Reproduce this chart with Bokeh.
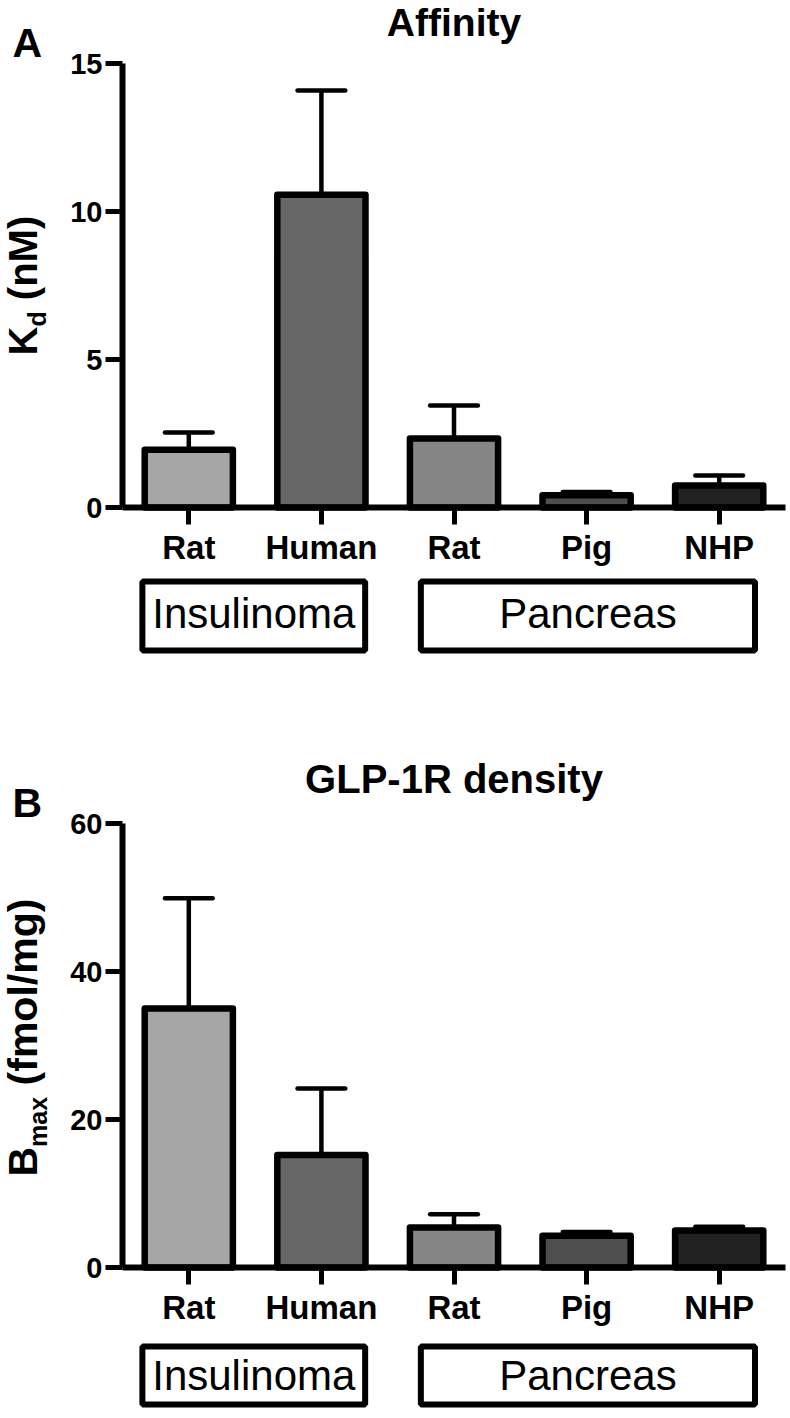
from math import pi
from bokeh.plotting import figure
from bokeh.models import Range1d, FixedTicker, Label, BoxAnnotation, ColumnDataSource, LinearAxis
from bokeh.layouts import column
from bokeh.embed import file_html
from bokeh.resources import INLINE

# ---------------- data ----------------
categories = ["Rat", "Human", "Rat", "Pig", "NHP"]
tissue = ["Insulinoma", "Insulinoma", "Pancreas", "Pancreas", "Pancreas"]
kd_mean = [1.95, 10.57, 2.33, 0.41, 0.74]
kd_err = [0.58, 3.52, 1.12, 0.11, 0.34]
bmax_mean = [35.0, 15.2, 5.4, 4.3, 5.0]
bmax_err = [14.9, 9.0, 1.8, 0.5, 0.5]
bar_colors = ["#a6a6a6", "#666666", "#858585", "#4e4e4e", "#222222"]
kd_ticks = [0, 5, 10, 15]
bmax_ticks = [0, 20, 40, 60]

# ---------------- style ----------------
FONT = "Liberation Sans"
W = 790
AXIS_LEFT_PX = 122        # pixel position of the y axis
AXIS_RIGHT_PX = 785       # end of the x axis
FRAME_H = 444             # height of the value axis in px
X0, X1 = -0.5, 4.5
PPX = (AXIS_RIGHT_PX - AXIS_LEFT_PX) / (X1 - X0)
BOX_PAD = {"Insulinoma": (0.35, 0.33), "Pancreas": (0.25, 0.27)}
BASE_SHIFT = 0.37         # empirical offset of the rendered baseline (em)


def make_panel(letter, title, ysym, ysub, yrest, means, errs, ticks,
               page_top, height, zero_page, lay):
    ymax = ticks[-1]
    ppy = FRAME_H / ymax

    def dx(px):
        return X0 + (px - AXIS_LEFT_PX) / PPX

    def dy(py):
        return (zero_page - py) / ppy

    def text(xpx, base_py, txt, fs, bold=True, align="left"):
        return Label(x=dx(xpx), y=dy(base_py - BASE_SHIFT * fs), text=txt,
                     text_font=FONT, text_font_style="bold" if bold else "normal",
                     text_font_size=f"{fs}px", text_color="black",
                     text_align=align, text_baseline="alphabetic")

    def vtext(base_px, start_py, txt, fs):
        return Label(x=dx(base_px - BASE_SHIFT * fs), y=dy(start_py), text=txt, angle=pi / 2,
                     text_font=FONT, text_font_style="bold",
                     text_font_size=f"{fs}px", text_color="black",
                     text_align="left", text_baseline="alphabetic")

    p = figure(width=W, height=height, output_backend="svg", toolbar_location=None,
               x_range=Range1d(dx(0), dx(W)),
               y_range=Range1d(dy(page_top + height), dy(page_top)),
               x_axis_location=None, y_axis_location=None)
    p.min_border_left = 0
    p.min_border_right = 0
    p.min_border_top = 0
    p.min_border_bottom = 0
    p.outline_line_color = None
    p.grid.visible = False
    p.background_fill_color = "white"
    p.border_fill_color = "white"

    xs = list(range(len(categories)))
    src = ColumnDataSource(dict(
        x=xs, top=means, color=bar_colors,
        etop=[m + e for m, e in zip(means, errs)],
        cl=[x - 0.18 for x in xs], cr=[x + 0.18 for x in xs]))

    p.segment(x0="x", y0="top", x1="x", y1="etop", source=src,
              line_color="black", line_width=4.5)
    p.vbar(x="x", top="top", bottom=0, width=0.665, source=src,
           fill_color="color", line_color="black", line_width=6.5, line_join="round")
    p.segment(x0="cl", y0="etop", x1="cr", y1="etop", source=src,
              line_color="black", line_width=4.5, line_cap="round")

    # axes (fixed at the data origin)
    xax = LinearAxis(fixed_location=0, bounds=(X0, X1),
                     ticker=FixedTicker(ticks=xs),
                     major_label_overrides={i: c for i, c in enumerate(categories)})
    yax = LinearAxis(fixed_location=X0, bounds=(0, ymax), ticker=FixedTicker(ticks=ticks))
    for ax in (xax, yax):
        ax.axis_line_width = 6
        ax.axis_line_color = "black"
        ax.major_tick_line_width = 5
        ax.major_tick_in = 0
        ax.major_tick_out = 17
        ax.minor_tick_line_color = None
        ax.major_label_text_font = FONT
        ax.major_label_text_font_style = "bold"
        ax.major_label_text_color = "black"
    xax.major_label_text_font_size = "33px"
    xax.major_label_standoff = 4
    yax.major_label_text_font_size = "29px"
    yax.major_label_standoff = 3
    p.add_layout(xax, "below")
    p.add_layout(yax, "left")

    # panel letter and title
    p.add_layout(text(12, lay["letter_base"], letter, 41))
    p.add_layout(text(AXIS_LEFT_PX + (AXIS_RIGHT_PX - AXIS_LEFT_PX) / 2, lay["title_base"],
                      title, lay["title_fs"], align="center"))

    # rotated y label with subscript
    y0 = lay["ylab_start"]
    fs = lay["ylab_fs"]
    bx = lay["ylab_base"]
    sfs = round(fs * 0.62)
    kw = lay["sym_w"] * fs
    p.add_layout(vtext(bx, y0, ysym, fs))
    p.add_layout(vtext(bx + 0.22 * fs, y0 - kw, ysub, sfs))
    p.add_layout(vtext(bx, y0 - kw - lay["sub_w"] * sfs - 0.28 * fs, yrest, fs))

    # group boxes
    groups = []
    for i, g in enumerate(tissue):
        if not groups or groups[-1][0] != g:
            groups.append([g, i, i])
        else:
            groups[-1][2] = i
    for g, i0, i1 in groups:
        pl, pr = BOX_PAD[g]
        left, right = i0 - pl, i1 + pr
        p.add_layout(BoxAnnotation(left=left, right=right,
                                   top=dy(zero_page + lay["box_top"]),
                                   bottom=dy(zero_page + lay["box_bot"]),
                                   fill_alpha=0, line_color="black", line_width=6,
                                   line_alpha=1))
        cx = AXIS_LEFT_PX + ((left + right) / 2 - X0) * PPX
        p.add_layout(text(cx, zero_page + lay["box_text"], g, 42, bold=False, align="center"))
    return p


pa = make_panel("A", "Affinity", "K", "d", "(nM)", kd_mean, kd_err, kd_ticks,
                page_top=0, height=690, zero_page=507,
                lay=dict(letter_base=58, title_base=36, title_fs=39,
                         ylab_start=355, ylab_fs=40, ylab_base=37,
                         sym_w=0.722, sub_w=0.611,
                         box_top=74, box_bot=143, box_text=122))
pb = make_panel("B", "GLP-1R density", "B", "max", "(fmol/mg)", bmax_mean, bmax_err, bmax_ticks,
                page_top=690, height=718, zero_page=1267,
                lay=dict(letter_base=818, title_base=793, title_fs=40,
                         ylab_start=1176, ylab_fs=41, ylab_base=38,
                         sym_w=0.722, sub_w=2.0,
                         box_top=79, box_bot=137, box_text=124))

layout = column(pa, pb, spacing=0)
open("out.html", "w").write(file_html(layout, INLINE))
